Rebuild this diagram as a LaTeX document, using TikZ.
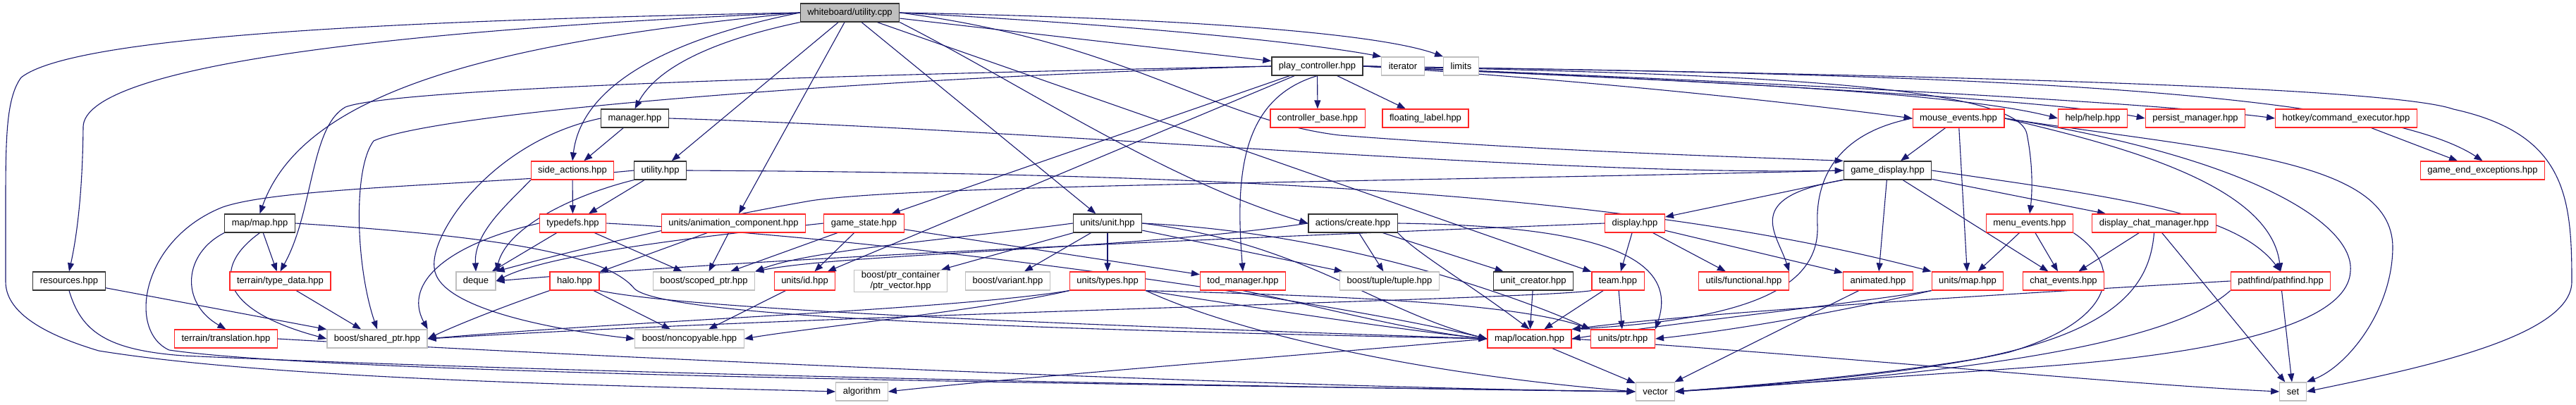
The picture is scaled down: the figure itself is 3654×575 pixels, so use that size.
\documentclass[tikz,border=0pt]{standalone}
\usepackage{fontspec}
\setmainfont{Liberation Sans}
\usepackage{tikz}
\usetikzlibrary{arrows.meta, positioning}

\definecolor{edgeblue}{HTML}{191970}
\definecolor{truncred}{HTML}{FF2626}
\definecolor{sysgray}{HTML}{BFBFBF}
\pgfdeclarelayer{background}
\pgfsetlayers{background,main}

\begin{document}
\begin{tikzpicture}[
    x=1pt, y=-1pt,
    every node/.style={font=\fontsize{13}{15}\selectfont, align=center},
    filebox/.style={rectangle, draw=black!80, fill=white, line width=1.2pt, inner xsep=10pt, inner ysep=2pt, minimum height=26pt},
    redbox/.style={filebox, draw=truncred},
    sysbox/.style={filebox, draw=sysgray},
    rootbox/.style={filebox, fill=sysgray},
    arrow/.style={-{Triangle[length=12pt, width=9pt]}, line width=1.1pt, draw=edgeblue}
]
\useasboundingbox (0,0) rectangle (3654,575);

% Files
\node (wb) [rootbox] at (1205.5,18) {whiteboard/utility.cpp};

\node (pc) [filebox] at (1868.5,94) {play\_controller.hpp};
\node (iter) [sysbox] at (1990,94) {iterator};
\node (lim) [sysbox] at (2072.5,94) {limits};

\node (mgr) [filebox] at (900.5,168) {manager.hpp};
\node (cb) [redbox] at (1869,168) {controller\_base.hpp};
\node (fl) [redbox] at (2022,168) {floating\_label.hpp};
\node (me) [redbox] at (2778,168) {mouse\_events.hpp};
\node (help) [redbox] at (2968.5,168) {help/help.hpp};
\node (pm) [redbox] at (3114,168) {persist\_manager.hpp};
\node (hk) [redbox] at (3328,168) {hotkey/command\_executor.hpp};

\node (sa) [redbox] at (812,242) {side\_actions.hpp};
\node (util) [filebox] at (936.5,242) {utility.hpp};
\node (gd) [filebox] at (2677.5,242) {game\_display.hpp};
\node (gee) [redbox] at (3521.5,242) {game\_end\_exceptions.hpp};

\node (mapm) [filebox] at (368.5,317) {map/map.hpp};
\node (td) [redbox] at (812.5,317) {typedefs.hpp};
\node (anim) [redbox] at (1040.5,317) {units/animation\_component.hpp};
\node (gs) [redbox] at (1225.5,317) {game\_state.hpp};
\node (unit) [filebox] at (1571,317) {units/unit.hpp};
\node (create) [filebox] at (1919,317) {actions/create.hpp};
\node (disp) [redbox] at (2319,317) {display.hpp};
\node (menu) [redbox] at (2879,317) {menu\_events.hpp};
\node (dcm) [redbox] at (3055.5,317) {display\_chat\_manager.hpp};

\node (res) [filebox] at (98,399) {resources.hpp};
\node (ttd) [redbox] at (397.5,399) {terrain/type\_data.hpp};
\node (deque) [sysbox] at (675,399) {deque};
\node (halo) [redbox] at (815,399) {halo.hpp};
\node (scoped) [sysbox] at (998.5,399) {boost/scoped\_ptr.hpp};
\node (uid) [redbox] at (1141.5,399) {units/id.hpp};
\node (ptrvec) [sysbox] at (1277.5,399) {boost/ptr\_container\\/ptr\_vector.hpp};
\node (variant) [sysbox] at (1429.5,399) {boost/variant.hpp};
\node (types) [redbox] at (1571,399) {units/types.hpp};
\node (tod) [redbox] at (1763,399) {tod\_manager.hpp};
\node (tuple) [sysbox] at (1971,399) {boost/tuple/tuple.hpp};
\node (uc) [filebox] at (2175,399) {unit\_creator.hpp};
\node (team) [redbox] at (2295,399) {team.hpp};
\node (uf) [redbox] at (2473.5,399) {utils/functional.hpp};
\node (animated) [redbox] at (2664,399) {animated.hpp};
\node (umap) [redbox] at (2791,399) {units/map.hpp};
\node (chat) [redbox] at (2927,399) {chat\_events.hpp};
\node (pf) [redbox] at (3235,399) {pathfind/pathfind.hpp};

\node (trans) [redbox] at (320.5,481) {terrain/translation.hpp};
\node (shared) [sysbox] at (535,481) {boost/shared\_ptr.hpp};
\node (nonc) [sysbox] at (978,481) {boost/noncopyable.hpp};
\node (loc) [redbox] at (2169.5,481) {map/location.hpp};
\node (uptr) [redbox] at (2302,481) {units/ptr.hpp};

\node (algo) [sysbox] at (1222.5,556) {algorithm};
\node (vec) [sysbox] at (2348,556) {vector};
\node (set) [sysbox] at (3252.5,556) {set};

\begin{pgfonlayer}{background}
% whiteboard/utility.cpp
\draw [arrow] (wb) -- (pc);
\draw [arrow] (wb.east) .. controls (1600,35) and (1850,60) .. (iter.north west);
\draw [arrow] (wb.east) .. controls (1650,25) and (1950,45) .. (lim.north west);
\draw [arrow] (wb.south west) .. controls (1000,60) and (930,100) .. (mgr.north);
\draw [arrow] (wb.west) .. controls (950,55) and (825,120) .. (sa.north);
\draw [arrow] (wb) -- (util);
\draw [arrow] (wb) -- (anim);
\draw [arrow] (wb) -- (unit);
\draw [arrow] (wb) -- (team);
\draw [arrow] (wb.south east) .. controls (1450,120) and (1650,255) .. (create.west);
\draw [arrow] (wb.east) .. controls (1600,60) and (1720,170) .. (1900,192) .. controls (2200,215) and (2450,222) .. (gd.north west);
\draw [arrow] (wb.west) .. controls (700,60) and (430,130) .. (mapm.north);
\draw [arrow] (wb.west) .. controls (500,45) and (120,100) .. (118,180) .. controls (117,280) and (108,340) .. (res.north);
\draw [arrow] (wb.west) .. controls (500,30) and (100,55) .. (30,110) .. controls (8,140) and (8,200) .. (8,300) -- (8,400) .. controls (8,450) and (80,480) .. (140,498) .. controls (400,540) and (900,548) .. (algo.west);

% play_controller.hpp
\draw [arrow] (pc) -- (cb);
\draw [arrow] (pc) -- (fl);
\draw [arrow] (pc.east) .. controls (2200,110) and (2500,140) .. (me.west);
\draw [arrow] (pc.east) .. controls (2300,112) and (2750,125) .. (help.west);
\draw [arrow] (pc.east) .. controls (2400,114) and (2900,140) .. (pm.west);
\draw [arrow] (pc.east) .. controls (2500,116) and (3050,145) .. (hk.west);
\draw [arrow] (pc.east) .. controls (2600,104) and (3350,115) .. (gee.north);
\draw [arrow] (pc.east) .. controls (2600,104) and (3380,120) .. (3480,155) .. controls (3640,190) and (3648,280) .. (3648,400) .. controls (3648,480) and (3420,525) .. (set.east);
\draw [arrow] (pc.east) .. controls (2400,104) and (2860,115) .. (2875,190) .. controls (2885,240) and (2882,280) .. (menu.north);
\draw [arrow] (pc.west) .. controls (1200,106) and (560,125) .. (490,152) .. controls (440,180) and (445,300) .. (ttd.north);
\draw [arrow] (pc.west) .. controls (1200,112) and (620,160) .. (530,200) .. controls (500,240) and (505,380) .. (shared.north);
\draw [arrow] (pc) -- (gs);
\draw [arrow] (pc) -- (uid);
\draw [arrow] (pc.south) .. controls (1760,140) and (1752,250) .. (tod.north);

% manager.hpp
\draw [arrow] (mgr) -- (sa);
\draw [arrow] (mgr.west) .. controls (700,200) and (610,330) .. (616,380) .. controls (620,440) and (800,470) .. (nonc.west);
\draw [arrow] (mgr.east) .. controls (1500,185) and (2200,250) .. (gd.west);

% side_actions.hpp, utility.hpp, typedefs.hpp
\draw [arrow] (sa) -- (td);
\draw [arrow] (sa.south west) .. controls (720,290) and (672,330) .. (deque.north);
\draw [arrow] (util) -- (td);
\draw [arrow] (util.south west) .. controls (820,275) and (720,320) .. (deque.north east);
\draw [arrow] (util.east) .. controls (1700,246) and (2300,270) .. (umap.north west);
\draw [arrow] (util.west) .. controls (700,262) and (400,265) .. (316,294) .. controls (200,340) and (180,470) .. (240,497) .. controls (500,535) and (1800,548) .. (vec.west);
\draw [arrow] (td) -- (deque);
\draw [arrow] (td) -- (scoped);
\draw [arrow] (td.west) .. controls (640,345) and (570,400) .. (shared.north east);
\draw [arrow] (td.east) .. controls (1300,340) and (1900,430) .. (loc.west);

% animation_component, game_state, unit
\draw [arrow] (anim) -- (halo);
\draw [arrow] (anim) -- (scoped);
\draw [arrow] (gs) -- (scoped);
\draw [arrow] (gs) -- (uid);
\draw [arrow] (gs) -- (tod);
\draw [arrow] (gs.west) .. controls (1000,335) and (780,360) .. (deque.east);
\draw [arrow] (unit) -- (ptrvec);
\draw [arrow] (unit) -- (variant);
\draw [arrow] (unit) -- (types);
\draw [arrow] (unit.west) .. controls (1350,340) and (1150,355) .. (scoped.north east);
\draw [arrow] (unit) -- (tuple);
\draw [arrow] (unit.east) .. controls (1850,345) and (1950,440) .. (loc.west);
\draw [arrow] (unit.east) .. controls (1900,330) and (2150,420) .. (uptr.north west);

% actions/create.hpp, display.hpp
\draw [arrow] (create) -- (tuple);
\draw [arrow] (create) -- (uc);
\draw [arrow] (create.south east) .. controls (2010,360) and (2080,400) .. (loc.north);
\draw [arrow] (create.east) .. controls (2200,320) and (2390,345) .. (uptr.north east);
\draw [arrow] (create.west) .. controls (1600,355) and (1200,360) .. (scoped.north east);
\draw [arrow] (disp) -- (team);
\draw [arrow] (disp) -- (uf);
\draw [arrow] (disp) -- (animated);
\draw [arrow] (disp.west) .. controls (1700,340) and (1100,365) .. (deque.east);

% game_display.hpp
\draw [arrow] (gd) -- (disp);
\draw [arrow] (gd) -- (animated);
\draw [arrow] (gd) -- (chat);
\draw [arrow] (gd) -- (dcm);
\draw [arrow] (gd.south west) .. controls (2470,280) and (2520,330) .. (uf.north east);
\draw [arrow] (gd.east) .. controls (3000,280) and (3170,300) .. (pf.north);
\draw [arrow] (gd.west) .. controls (2000,258) and (1300,262) .. (1150,285) .. controls (950,320) and (760,370) .. (deque.north east);

% mouse_events.hpp
\draw [arrow] (me) -- (gd);
\draw [arrow] (me) -- (umap);
\draw [arrow] (me.east) .. controls (3000,205) and (3220,260) .. (pf.north);
\draw [arrow] (me.east) .. controls (3150,215) and (3392,225) .. (3394,350) .. controls (3394,440) and (3330,520) .. (set.north east);
\draw [arrow] (me.east) .. controls (3200,225) and (3340,320) .. (3334,385) .. controls (3330,470) and (3100,505) .. (2900,520) .. controls (2700,535) and (2450,550) .. (vec.east);
\draw [arrow] (me.west) .. controls (2600,190) and (2575,260) .. (2578,320) .. controls (2582,420) and (2450,455) .. (loc.north east);

% menu_events.hpp, display_chat_manager.hpp, pathfind.hpp, units/map.hpp
\draw [arrow] (menu) -- (umap);
\draw [arrow] (menu) -- (chat);
\draw [arrow] (menu.south east) .. controls (3015,380) and (3000,455) .. (2850,500) .. controls (2700,535) and (2450,550) .. (vec.east);
\draw [arrow] (dcm) -- (chat);
\draw [arrow] (dcm) -- (set);
\draw [arrow] (dcm.south) .. controls (3050,400) and (3010,470) .. (2800,510) .. controls (2650,535) and (2450,550) .. (vec.east);
\draw [arrow] (pf) -- (set);
\draw [arrow] (pf.south west) .. controls (3100,470) and (2900,525) .. (vec.east);
\draw [arrow] (pf.west) .. controls (2800,420) and (2400,445) .. (loc.north east);
\draw [arrow] (umap.south west) .. controls (2600,435) and (2400,455) .. (loc.east);
\draw [arrow] (umap.south west) .. controls (2600,445) and (2450,470) .. (uptr.east);
\draw [arrow] (hk) -- (gee);
\draw [arrow] (animated) -- (vec);

% halo.hpp, units/id.hpp, units/types.hpp
\draw [arrow] (uid) -- (nonc);
\draw [arrow] (halo) -- (nonc);
\draw [arrow] (halo.south west) .. controls (700,440) and (640,465) .. (shared.east);
\draw [arrow] (halo.south east) .. controls (1000,445) and (1800,470) .. (loc.west);
\draw [arrow] (types.south west) .. controls (1350,440) and (900,455) .. (shared.east);
\draw [arrow] (types.south west) .. controls (1400,440) and (1150,465) .. (nonc.east);
\draw [arrow] (types.south east) .. controls (1800,440) and (2000,470) .. (loc.west);
\draw [arrow] (types.south east) .. controls (1900,420) and (2150,430) .. (uptr.north west);
\draw [arrow] (types.south east) .. controls (1750,470) and (2000,530) .. (vec.west);

% tod_manager.hpp, unit_creator.hpp, team.hpp, map/location.hpp
\draw [arrow] (tod.south) .. controls (1850,430) and (2000,470) .. (loc.west);
\draw [arrow] (uc) -- (loc);
\draw [arrow] (team) -- (loc);
\draw [arrow] (team) -- (uptr);
\draw [arrow] (team.south west) .. controls (2180,425) and (1200,445) .. (shared.east);
\draw [arrow] (loc) -- (vec);
\draw [arrow] (loc.west) .. controls (1900,500) and (1450,535) .. (algo.east);
\draw [arrow] (loc.east) .. controls (2600,505) and (3000,545) .. (set.west);

% map/map.hpp, resources.hpp, terrain
\draw [arrow] (mapm) -- (ttd);
\draw [arrow] (mapm.south west) .. controls (260,360) and (255,430) .. (trans.north);
\draw [arrow] (mapm.south) .. controls (300,380) and (310,440) .. (shared.west);
\draw [arrow] (mapm.east) .. controls (700,335) and (860,360) .. (900,410) .. controls (950,455) and (1600,470) .. (loc.west);
\draw [arrow] (res) -- (shared);
\draw [arrow] (res.south) .. controls (115,470) and (150,497) .. (260,505) .. controls (800,530) and (1800,550) .. (vec.west);
\draw [arrow] (ttd) -- (shared);
\draw [arrow] (trans.east) .. controls (800,505) and (1800,550) .. (vec.west);
\end{pgfonlayer}

\end{tikzpicture}
\end{document}
